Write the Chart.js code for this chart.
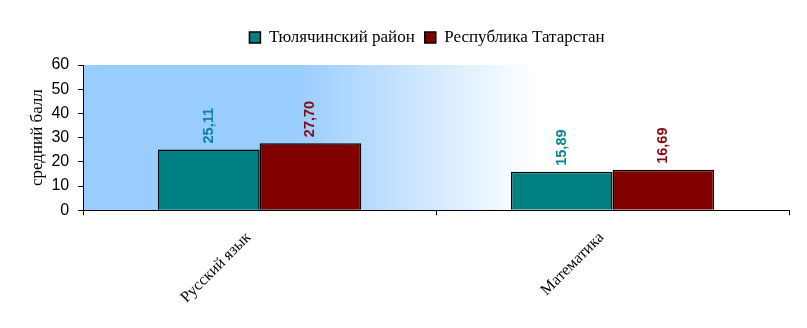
<!DOCTYPE html>
<html>
<head>
<meta charset="utf-8">
<script src="https://cdn.jsdelivr.net/npm/chart.js@4"></script>
<style>
  html, body { margin: 0; padding: 0; background: #fff; }
</style>
</head>
<body>
<canvas id="scoreChart" width="807" height="328"></canvas>
<script>
const subjects = ["Русский язык", "Математика"];
const districtScores = [25.11, 15.89];
const republicScores = [27.70, 16.69];
const seriesNames = ["Тюлячинский район", "Республика Татарстан"];
const yTicks = [0, 10, 20, 30, 40, 50, 60];

/* plot background: light blue fading to white */
const plotBackground = {
  id: 'plotBackground',
  beforeDraw(chart) {
    const { ctx, chartArea: a } = chart;
    const g = ctx.createLinearGradient(a.left, 0, a.right, 0);
    g.addColorStop(0, '#99ccff');
    g.addColorStop(0.3, '#99ccff');
    g.addColorStop(0.64, '#ffffff');
    g.addColorStop(1, '#ffffff');
    ctx.save();
    ctx.fillStyle = g;
    ctx.fillRect(a.left, a.top, a.right - a.left, a.bottom - a.top);
    ctx.restore();
  }
};

/* extra space below the legend, legend centred over the plot */
const legendGap = {
  id: 'legendGap',
  beforeInit(chart) {
    const fit = chart.legend.fit;
    chart.legend.fit = function () {
      fit.bind(chart.legend)();
      this.height += 9;
    };
  },
  afterLayout(chart) {
    chart.legend.left += 19;
    chart.legend.right += 19;
  }
};

/* vertical value labels above bars */
const valueLabels = {
  id: 'valueLabels',
  afterDatasetsDraw(chart) {
    const ctx = chart.ctx;
    chart.data.datasets.forEach(function (ds, i) {
      const meta = chart.getDatasetMeta(i);
      meta.data.forEach(function (bar, j) {
        ctx.save();
        ctx.translate(bar.x, bar.y - 6);
        ctx.rotate(-Math.PI / 2);
        ctx.font = 'bold 14.5px "Liberation Sans", Arial, sans-serif';
        ctx.fillStyle = ds.labelColor;
        ctx.textAlign = 'left';
        ctx.textBaseline = 'middle';
        ctx.fillText(ds.data[j].toFixed(2).replace('.', ','), 0, 0);
        ctx.restore();
      });
    });
  }
};

const ctx = document.getElementById('scoreChart');
new Chart(ctx, {
  type: 'bar',
  data: {
    labels: subjects,
    datasets: [{
      label: seriesNames[0],
      data: districtScores,
      backgroundColor: '#008080',
      borderColor: '#000000',
      borderWidth: 1.5,
      labelColor: '#0a8492',
      categoryPercentage: 0.576,
      barPercentage: 1.0,
    }, {
      label: seriesNames[1],
      data: republicScores,
      backgroundColor: '#800000',
      borderColor: '#000000',
      borderWidth: 1.5,
      labelColor: '#850a14',
      categoryPercentage: 0.576,
      barPercentage: 1.0,
    }],
  },
  options: {
    responsive: false,
    animation: false,
    layout: {
      padding: { left: 27, right: 18, top: 19, bottom: 8 }
    },
    plugins: {
      legend: {
        position: 'top',
        labels: {
          boxWidth: 11,
          boxHeight: 11,
          color: '#000',
          padding: 10,
          font: { family: '"Liberation Serif", "Times New Roman", serif', size: 17 },
        },
      },
      tooltip: { enabled: false },
    },
    scales: {
      x: {
        grid: {
          display: true,
          drawOnChartArea: false,
          drawTicks: true,
          tickLength: 5,
          color: '#000',
        },
        border: { color: '#000', width: 1 },
        ticks: {
          color: '#000',
          maxRotation: 45,
          minRotation: 45,
          padding: 13,
          labelOffset: -11,
          font: { family: '"Liberation Serif", "Times New Roman", serif', size: 16 },
        },
      },
      y: {
        min: 0,
        max: 60,
        afterBuildTicks(axis) {
          axis.ticks = yTicks.map(v => ({ value: v }));
        },
        grid: {
          display: true,
          drawOnChartArea: false,
          drawTicks: true,
          tickLength: 5,
          color: '#000',
        },
        border: { color: '#000', width: 1 },
        ticks: {
          color: '#000',
          padding: 9,
          font: { family: '"Liberation Sans", Arial, sans-serif', size: 16 },
        },
        title: {
          display: true,
          text: 'средний балл',
          color: '#000',
          padding: { top: 0, bottom: -5 },
          font: { family: '"Liberation Serif", "Times New Roman", serif', size: 17 },
        },
      },
    },
  },
  plugins: [plotBackground, legendGap, valueLabels],
});
</script>
</body>
</html>
